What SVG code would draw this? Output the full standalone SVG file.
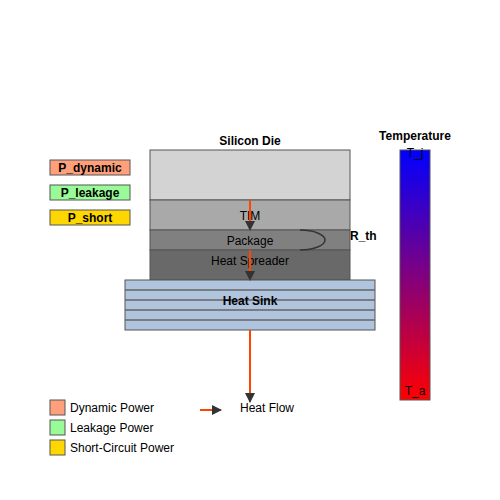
<svg xmlns="http://www.w3.org/2000/svg" width="500" height="500" viewBox="0 0 500 500">
<style>
text{font-family:"Liberation Sans",Arial,sans-serif;font-size:12px;fill:#000}
.b{font-weight:bold}
.m{text-anchor:middle}
.layer{stroke:#555;stroke-width:1}
.fin{stroke:#666;stroke-width:1.5}
.flow{stroke:#ff4500;stroke-width:2;fill:none}
</style>
<defs>
<linearGradient id="tg" x1="0" y1="0" x2="0" y2="1">
<stop offset="0" stop-color="#0000ff"/>
<stop offset="1" stop-color="#ff0000"/>
</linearGradient>
<marker id="ah" markerWidth="10" markerHeight="10" refX="9" refY="5" orient="auto" markerUnits="userSpaceOnUse">
<path d="M0,0 L10,5 L0,10 Z" fill="#333"/>
</marker>
</defs>
<rect width="500" height="500" fill="#fff"/>
<g id="silicon-die">
<rect class="layer" x="150" y="150" width="200" height="50" fill="#d3d3d3"/>
<text class="b m" x="250" y="145">Silicon Die</text>
</g>
<g id="tim">
<rect class="layer" x="150" y="200" width="200" height="30" fill="#a9a9a9"/>
<text class="m" x="250" y="220">TIM</text>
</g>
<g id="package">
<rect class="layer" x="150" y="230" width="200" height="20" fill="#808080"/>
<text class="m" x="250" y="245">Package</text>
</g>
<g id="heat-spreader">
<rect class="layer" x="150" y="250" width="200" height="30" fill="#696969"/>
<text class="m" x="250" y="265">Heat Spreader</text>
</g>
<g id="heat-sink">
<rect class="layer" x="125" y="280" width="250" height="50" fill="#b0c4de"/>
<line class="fin" x1="125" y1="290" x2="375" y2="290"/>
<line class="fin" x1="125" y1="300" x2="375" y2="300"/>
<line class="fin" x1="125" y1="310" x2="375" y2="310"/>
<line class="fin" x1="125" y1="320" x2="375" y2="320"/>
<text class="b m" x="250" y="305">Heat Sink</text>
</g>
<g id="connectors">
<line class="flow" x1="250" y1="200" x2="250" y2="230" marker-end="url(#ah)"/>
<line class="flow" x1="250" y1="250" x2="250" y2="280" marker-end="url(#ah)"/>
<line class="flow" x1="250" y1="330" x2="250" y2="402" marker-end="url(#ah)"/>
</g>
<g id="r-th">
<path d="M300,230 A25,10 0 0 1 300,250" fill="none" stroke="#333" stroke-width="1.5"/>
<text class="b" x="350" y="240">R_th</text>
</g>
<g id="p-dynamic">
<rect class="layer" x="50" y="160" width="80" height="15" fill="#ffa07a"/>
<text class="b m" x="90" y="172">P_dynamic</text>
</g>
<g id="p-leakage">
<rect class="layer" x="50" y="185" width="80" height="15" fill="#98fb98"/>
<text class="b m" x="90" y="197">P_leakage</text>
</g>
<g id="p-short">
<rect class="layer" x="50" y="210" width="80" height="15" fill="#ffd700"/>
<text class="b m" x="90" y="222">P_short</text>
</g>
<g id="temperature">
<rect x="400" y="150" width="30" height="250" fill="url(#tg)" stroke="#555" stroke-width="1"/>
<text class="b m" x="415" y="140">Temperature</text>
<text class="m" x="415" y="157">T_j</text>
<text class="m" x="415" y="395">T_a</text>
</g>
<g id="legend">
<rect class="layer" x="50" y="400" width="15" height="15" fill="#ffa07a"/>
<text x="70" y="412">Dynamic Power</text>
<rect class="layer" x="50" y="420" width="15" height="15" fill="#98fb98"/>
<text x="70" y="432">Leakage Power</text>
<rect class="layer" x="50" y="440" width="15" height="15" fill="#ffd700"/>
<text x="70" y="452">Short-Circuit Power</text>
<line class="flow" x1="200" y1="410" x2="221" y2="410" marker-end="url(#ah)"/>
<text x="240" y="412">Heat Flow</text>
</g>
</svg>
